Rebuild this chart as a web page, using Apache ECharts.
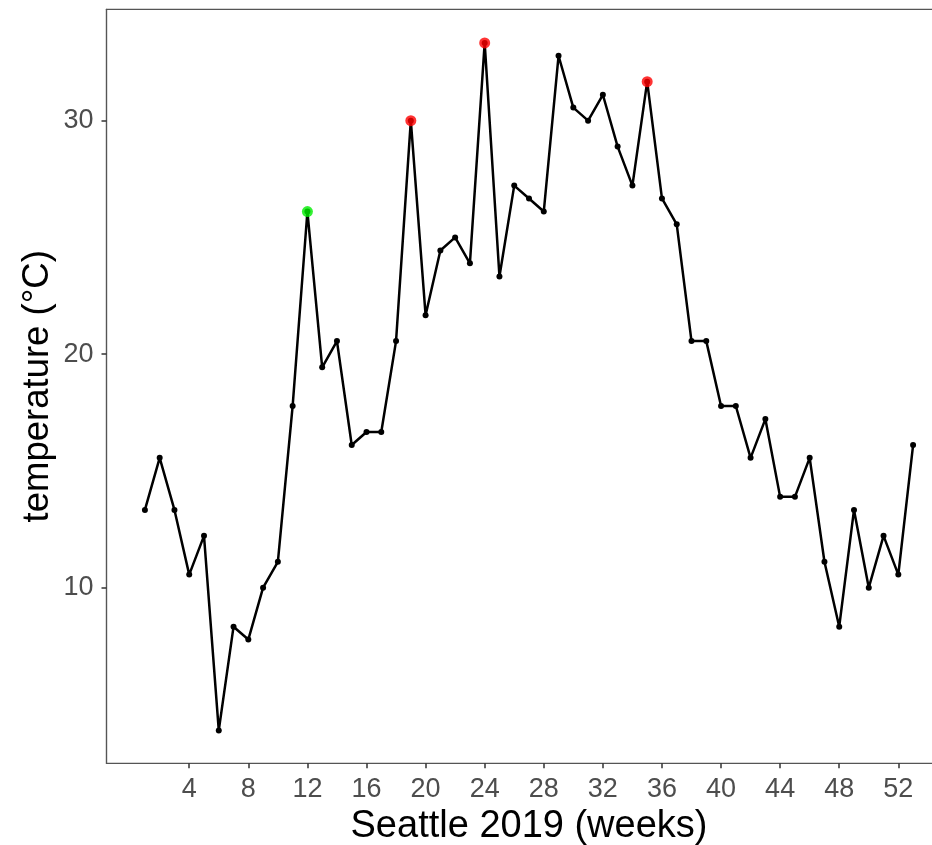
<!DOCTYPE html>
<html>
<head>
<meta charset="utf-8">
<script src="https://cdn.jsdelivr.net/npm/echarts@6/dist/echarts.min.js"></script>
<style>
html,body{margin:0;padding:0;background:#fff;}
#chart{width:932px;height:845px;}
</style>
</head>
<body>
<div id="chart"></div>
<script>
// Week numbers and weekly temperature (°C), Seattle 2019
var weeks = [1,2,3,4,5,6,7,8,9,10,11,12,13,14,15,16,17,18,19,20,21,22,23,24,25,26,27,28,29,30,31,32,33,34,35,36,37,38,39,40,41,42,43,44,45,46,47,48,49,50,51,52,53];
var temps = [13.33,15.56,13.33,10.56,12.22,3.89,8.33,7.78,10.00,11.11,17.78,26.11,19.44,20.56,16.11,16.67,16.67,20.56,30.00,21.67,24.44,25.00,23.89,33.33,23.33,27.22,26.67,26.11,32.78,30.56,30.00,31.11,28.89,27.22,31.67,26.67,25.56,20.56,20.56,17.78,17.78,15.56,17.22,13.89,13.89,15.56,11.11,8.33,13.33,10.00,12.22,10.56,16.11];
var greenWeeks = [12];
var redWeeks = [19, 24, 35];
var xTicks = [4,8,12,16,20,24,28,32,36,40,44,48,52];
var yTicks = [10,20,30];
var xTitle = 'Seattle 2019 (weeks)';
var yTitle = 'temperature (°C)';

function pts(ws){ return ws.map(function(w){ return [w, temps[weeks.indexOf(w)]]; }); }
var lineData = weeks.map(function(w,i){ return [w, temps[i]]; });

var FONT = 'Liberation Sans, Arial, Helvetica, sans-serif';
var AX = '#4d4d4d';
var chart = echarts.init(document.getElementById('chart'), null, {renderer:'canvas'});
chart.setOption({
  animation:false,
  backgroundColor:'#ffffff',
  grid:{left:106.5, top:9.3, width:845, height:754, show:true, borderColor:'#555555', borderWidth:1.2, backgroundColor:'transparent', containLabel:false, outerBoundsMode:'none'},
  xAxis:{
    type:'value', min:-1.6, max:55.6,
    axisLine:{show:true, onZero:false, lineStyle:{color:'#555555', width:1.2}},
    axisTick:{show:true, length:5, customValues:xTicks, lineStyle:{color:'#333333', width:1.5}},
    axisLabel:{show:true, customValues:xTicks, color:AX, fontSize:27, fontFamily:FONT, margin:13},
    splitLine:{show:false},
    name:xTitle, nameLocation:'middle', nameGap:44, nameMoveOverlap:false,
    nameTextStyle:{color:'#000', fontSize:38, fontFamily:FONT}
  },
  yAxis:{
    type:'value', min:2.48, max:34.77,
    axisLine:{show:true, onZero:false, lineStyle:{color:'#555555', width:1.2}},
    axisTick:{show:true, length:5, customValues:yTicks, lineStyle:{color:'#333333', width:1.5}},
    axisLabel:{show:true, customValues:yTicks, color:AX, fontSize:27, fontFamily:FONT, margin:13},
    splitLine:{show:false},
    name:yTitle, nameLocation:'middle', nameGap:50, nameRotate:90, nameMoveOverlap:false,
    nameTextStyle:{color:'#000', fontSize:36.5, fontFamily:FONT}
  },
  series:[
    {type:'line', data:lineData, symbol:'circle', symbolSize:6, showSymbol:true,
     lineStyle:{color:'#000', width:2.5}, itemStyle:{color:'#000'}, z:2},
    {type:'scatter', data:pts(greenWeeks), symbol:'circle', symbolSize:11, itemStyle:{color:'#00ee00'}, z:3},
    {type:'scatter', data:pts(redWeeks), symbol:'circle', symbolSize:11, itemStyle:{color:'#ff0000'}, z:3}
  ]
});
</script>
</body>
</html>
